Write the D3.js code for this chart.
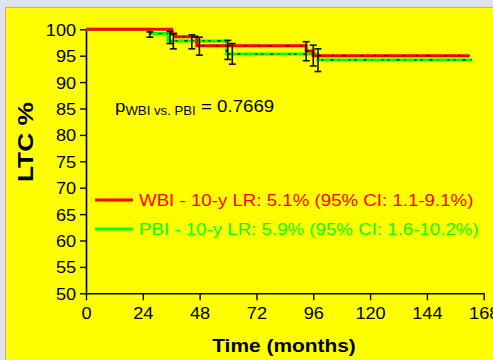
<!DOCTYPE html>
<html>
<head>
<meta charset="utf-8">
<script src="https://cdn.jsdelivr.net/npm/d3@7"></script>
<style>
  body { margin: 0; background: #dde4ec; }
  svg { display: block; font-family: 'Liberation Sans', Arial, sans-serif; }
</style>
</head>
<body>
<div id="chart"></div>
<script>
// Kaplan-Meier style step curves (time in months, LTC %)
const wbiTimes = [0, 36.2, 37.9, 46.8, 93, 96, 162]
const wbiValues = [100, 99.1, 98.6, 96.9, 95.9, 95.0, 95.0]
const pbiTimes = [0, 27, 34.6, 59.4, 98, 163]
const pbiValues = [100, 99.2, 97.8, 95.3, 94.2, 94.2]

// confidence bars
const wbiBarTimes = [35.5, 36.9, 47.9, 93, 96]
const wbiBarLow = [97.3, 96.3, 95.1, 94.05, 93.05]
const wbiBarHigh = [99.6, 99.2, 98.5, 97.65, 97.0]
const pbiBarTimes = [27, 44.7, 59.9, 61.8, 98]
const pbiBarLow = [98.5, 96.3, 94.3, 93.4, 92.0]
const pbiBarHigh = [99.5, 98.95, 97.9, 97.3, 96.3]

const xTicks = [0, 24, 48, 72, 96, 120, 144, 168]
const yTicks = [50, 55, 60, 65, 70, 75, 80, 85, 90, 95, 100]

const legendLabels = [
  'WBI - 10-y LR: 5.1% (95% CI: 1.1-9.1%)',
  'PBI - 10-y LR: 5.9% (95% CI: 1.6-10.2%)',
]

const RED = '#ff0000'
const GREEN = '#00ff00'
const STRETCH = 'scale(1.1,1)'

const W = 493, H = 360
const svg = d3.select('#chart').append('svg')
  .attr('width', W).attr('height', H)

svg.append('rect')
  .attr('x', 5.5).attr('y', 7.5)
  .attr('width', W).attr('height', H)
  .attr('fill', '#ffff00')
  .attr('stroke', '#d8a0a0')

const x = d3.scaleLinear().domain([0, 168]).range([86, 483.7])
const y = d3.scaleLinear().domain([50, 100]).range([293.3, 29.3])

// axes
const xAxis = svg.append('g')
  .attr('transform', `translate(0,${y(50)})`)
  .call(d3.axisBottom(x).tickValues(xTicks).tickSize(7).tickSizeOuter(0).tickPadding(7))
const yAxis = svg.append('g')
  .attr('transform', `translate(${x(0)},0)`)
  .call(d3.axisLeft(y).tickValues(yTicks).tickSize(6).tickSizeOuter(0).tickPadding(3))

for (const ax of [xAxis, yAxis]) {
  ax.select('.domain').attr('stroke', '#000').attr('stroke-width', 1.6)
  ax.selectAll('.tick line').attr('stroke', '#000').attr('stroke-width', 1.4)
  ax.selectAll('.tick text')
    .attr('fill', '#000')
    .attr('font-size', '16.5px')
    .attr('font-family', "'Liberation Sans', Arial, sans-serif")
    .attr('transform', STRETCH)
}
yAxis.selectAll('.tick text').attr('dy', '0.36em')

// step curves
const line = d3.line()
  .x(d => x(d[0]))
  .y(d => y(d[1]))
  .curve(d3.curveStepAfter)

const series = [
  { times: pbiTimes, values: pbiValues, color: GREEN,
    bars: [pbiBarTimes, pbiBarLow, pbiBarHigh], dash: '2,7,3,5,1,9,2,4' },
  { times: wbiTimes, values: wbiValues, color: RED,
    bars: [wbiBarTimes, wbiBarLow, wbiBarHigh], dash: '3,11,2,8,4,14' },
]

for (const s of series) {
  const pts = s.times.map((t, i) => [t, s.values[i]])
  svg.append('path')
    .attr('d', line(pts))
    .attr('fill', 'none')
    .attr('stroke', s.color)
    .attr('stroke-width', 3)
  // censor marks
  svg.append('path')
    .attr('d', line(pts.filter(p => p[0] > 20)))
    .attr('fill', 'none')
    .attr('stroke', '#000')
    .attr('stroke-width', 1.2)
    .attr('stroke-dasharray', s.dash)
}

for (const s of series) {
  const [bt, lo, hi] = s.bars
  const g = svg.append('g').attr('stroke', '#111').attr('stroke-width', 1.6)
  bt.forEach((t, i) => {
    const cx = x(t)
    g.append('line').attr('x1', cx).attr('x2', cx).attr('y1', y(lo[i])).attr('y2', y(hi[i]))
    g.append('line').attr('x1', cx - 3.5).attr('x2', cx + 3.5).attr('y1', y(lo[i])).attr('y2', y(lo[i]))
    g.append('line').attr('x1', cx - 3.5).attr('x2', cx + 3.5).attr('y1', y(hi[i])).attr('y2', y(hi[i]))
  })
}

// p-value
const pText = svg.append('text')
  .attr('transform', `translate(115,112) ${STRETCH}`)
  .attr('font-size', '17px')
  .attr('fill', '#000')
pText.append('tspan').text('p')
pText.append('tspan').attr('font-size', '12px').attr('dy', 3).text('WBI vs. PBI')
pText.append('tspan').attr('dy', -3).text(' = 0.7669')

// legend
const legendColors = [RED, GREEN]
legendLabels.forEach((label, i) => {
  const ly = 200 + i * 29
  svg.append('line')
    .attr('x1', 95).attr('x2', 133).attr('y1', ly).attr('y2', ly)
    .attr('stroke', legendColors[i]).attr('stroke-width', 3)
  svg.append('text')
    .attr('transform', `translate(139,${ly + 6}) ${STRETCH}`)
    .attr('font-size', '17px')
    .attr('fill', legendColors[i])
    .text(label)
})

// axis titles
svg.append('text')
  .attr('transform', `translate(284,352) ${STRETCH}`)
  .attr('text-anchor', 'middle')
  .attr('font-size', '19px')
  .attr('font-weight', 'bold')
  .text('Time (months)')

svg.append('text')
  .attr('transform', 'translate(33,142) rotate(-90) scale(1.2,1)')
  .attr('text-anchor', 'middle')
  .attr('font-size', '22px')
  .attr('font-weight', 'bold')
  .text('LTC %')
</script>
</body>
</html>
